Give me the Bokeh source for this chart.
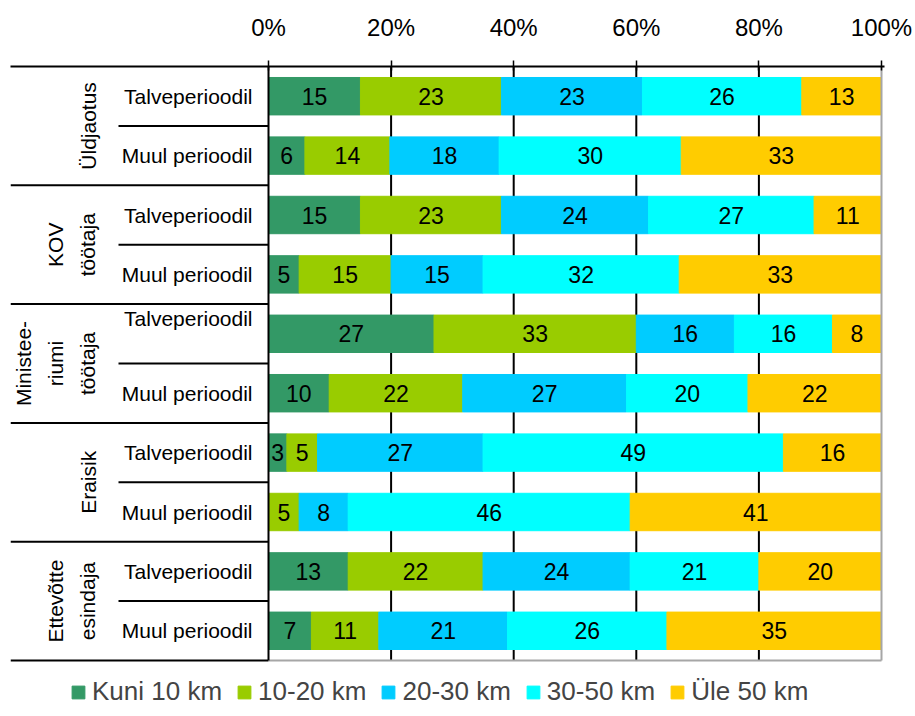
import math
from bokeh.plotting import figure
from bokeh.models import (ColumnDataSource, Range1d, FixedTicker, PrintfTickFormatter,
                          Legend, LegendItem)
from bokeh.core.properties import value
from bokeh.embed import file_html
from bokeh.resources import INLINE

# ---------------- data ----------------
groups = ["Üldjaotus", "KOV\ntöötaja", "Ministee-\nriumi\ntöötaja", "Eraisik", "Ettevõtte\nesindaja"]
periods = ["Talveperioodil", "Muul perioodil"]
series = ["Kuni 10 km", "10-20 km", "20-30 km", "30-50 km", "Üle 50 km"]

kuni_10 = [15, 6, 15, 5, 27, 10, 3, 0, 13, 7]
km_10_20 = [23, 14, 23, 15, 33, 22, 5, 5, 22, 11]
km_20_30 = [23, 18, 24, 15, 16, 27, 27, 8, 24, 21]
km_30_50 = [26, 30, 27, 32, 16, 20, 49, 46, 21, 26]
yle_50 = [13, 33, 11, 33, 8, 22, 16, 41, 20, 35]

x_ticks = [0, 20, 40, 60, 80, 100]

# ---------------- style ----------------
colors = ["#339966", "#99CC00", "#00CCFF", "#00FFFF", "#FFCC00"]
FONT = "Liberation Sans"
FIG_W, FIG_H = 912, 714
LEFT_PX = 10           # left edge of the label table
TOP_PX = 66            # top axis line
PLOT_PX = 613          # pixels for 0..100 %
LABEL_PX = 258         # pixels of the label table left of 0 %
SUB_PX = 150           # width of the sub-row separator lines
ROW_PX = 59.4
RIGHT_PAD_PX = 3
PX_PER_UNIT = PLOT_PX / 100.0
X0 = -LABEL_PX / PX_PER_UNIT
X1 = 100 + RIGHT_PAD_PX / PX_PER_UNIT
X_SUB = -SUB_PX / PX_PER_UNIT

series_values = [kuni_10, km_10_20, km_20_30, km_30_50, yle_50]
keys = ["s%d" % i for i in range(len(series))]
n_rows = len(groups) * len(periods)
FRAME_H = FIG_H - TOP_PX
Y_BOTTOM = FRAME_H / ROW_PX

row_totals = [sum(r) for r in zip(*series_values)]
row_y = [i + 0.5 for i in range(n_rows)]

data = {"y": row_y}
for k, vals in zip(keys, series_values):
    data[k] = [v / t * 100.0 for v, t in zip(vals, row_totals)]
src = ColumnDataSource(data)

frame_w = LABEL_PX + PLOT_PX + RIGHT_PAD_PX
p = figure(width=FIG_W, height=FIG_H, x_range=Range1d(X0, X1), y_range=Range1d(Y_BOTTOM, 0),
           x_axis_location="above", y_axis_location=None,
           min_border_left=LEFT_PX, min_border_right=FIG_W - LEFT_PX - frame_w,
           min_border_top=TOP_PX, min_border_bottom=0,
           outline_line_color=None, toolbar_location=None, output_backend="svg")

# axis
ax = p.xaxis[0]
ax.ticker = FixedTicker(ticks=x_ticks)
ax.formatter = PrintfTickFormatter(format="%d%%")
ax.axis_line_width = 2
ax.axis_line_color = "black"
ax.major_tick_line_width = 1.5
ax.major_tick_line_color = "black"
ax.major_tick_out = 6
ax.major_tick_in = 4
ax.minor_tick_line_color = None
ax.major_label_standoff = 20
ax.major_label_text_font = FONT
ax.major_label_text_font_size = "24px"
ax.major_label_text_color = "black"

p.xgrid.visible = False
p.ygrid.visible = False

# vertical grid lines (only over the rows)
grid_x = [t for t in x_ticks if 0 < t < 100]
p.segment(x0=grid_x, y0=[0] * len(grid_x), x1=grid_x, y1=[n_rows] * len(grid_x),
          line_color="black", line_width=2, level="underlay")

# bars
renderers = p.hbar_stack(keys, y="y", height=0.63, color=colors, source=src)

# value labels
lx, ly, lt = [], [], []
for i in range(n_rows):
    cum = 0.0
    for k, vals in zip(keys, series_values):
        s = data[k][i]
        if vals[i] > 0:
            lx.append(cum + s / 2)
            ly.append(row_y[i])
            lt.append(str(vals[i]))
        cum += s
p.text(x=lx, y=ly, text=lt, text_align="center", text_baseline="middle",
       text_font=value(FONT), text_font_size="23px", text_color="black")

# sub-row labels
sub_labels = periods * len(groups)
sub_yoff = [0] * n_rows
sub_yoff[2 * len(periods)] = -15
p.text(x=[0] * n_rows, y=row_y, text=sub_labels, x_offset=-16, y_offset=sub_yoff,
       text_align="right", text_baseline="middle",
       text_font=value(FONT), text_font_size="21px", text_color="black")

# group labels (rotated)
group_y = [(k + 0.5) * len(periods) for k in range(len(groups))]
p.text(x=[0] * len(groups), y=group_y, text=groups, angle=math.pi / 2, x_offset=-169,
       text_align="center", text_baseline="bottom", text_line_height=1.4,
       text_font=value(FONT), text_font_size="21px", text_color="black")

# separator lines of the label table
gb = [(k + 1) * len(periods) for k in range(len(groups))]
sb = [k * len(periods) + 1 for k in range(len(groups))]
p.segment(x0=[X0] * len(gb) + [X_SUB] * len(sb), y0=gb + sb,
          x1=[0] * (len(gb) + len(sb)), y1=gb + sb, line_color="black", line_width=2)
# frame of the plot area: grey bottom and right, black left
p.segment(x0=[0, 100], y0=[n_rows, n_rows], x1=[100, 100], y1=[n_rows, 0],
          line_color="#a6a6a6", line_width=2)
p.segment(x0=[0], y0=[0], x1=[0], y1=[n_rows], line_color="black", line_width=2)

# legend
items = [LegendItem(label=s, renderers=[r]) for s, r in zip(series, renderers)]
legend = Legend(items=items, orientation="horizontal", location=(60, 7),
                label_text_font=FONT, label_text_font_size="26px",
                glyph_width=16, glyph_height=16, label_standoff=6, spacing=14,
                padding=0, margin=0, border_line_color=None, background_fill_alpha=0)
p.add_layout(legend)

open("out.html", "w").write(file_html(p, INLINE))
